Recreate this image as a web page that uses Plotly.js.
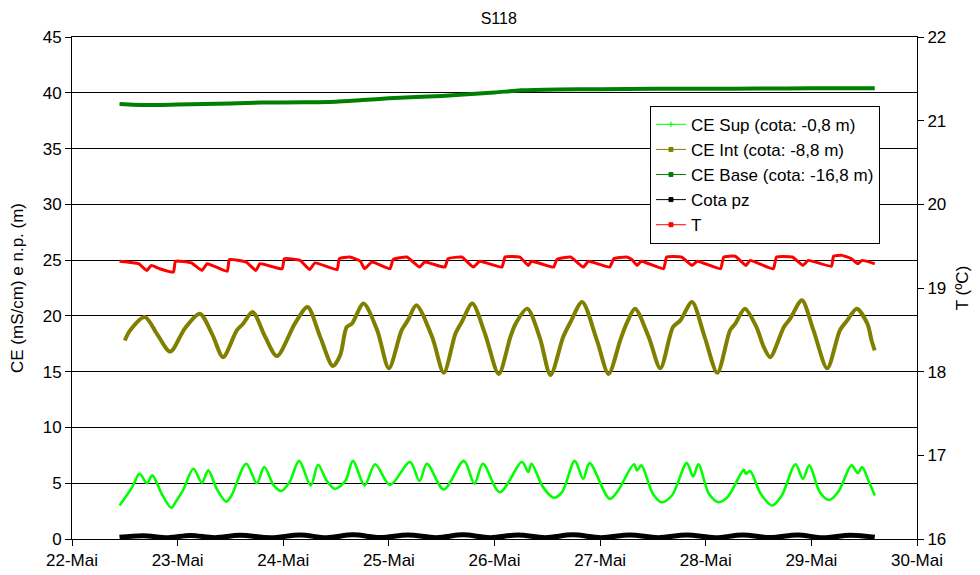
<!DOCTYPE html>
<html>
<head>
<meta charset="utf-8">
<script src="https://cdn.plot.ly/plotly-3.0.1.min.js"></script>
<style>html,body{margin:0;padding:0;background:#fff;}#chart{width:980px;height:575px;}</style>
</head>
<body>
<div id="chart"></div>
<script>
// x values are days of May (decimal)
const dayTicks = [22, 23, 24, 25, 26, 27, 28, 29, 30];
const dayLabels = ['22-Mai', '23-Mai', '24-Mai', '25-Mai', '26-Mai', '27-Mai', '28-Mai', '29-Mai', '30-Mai'];

const supT = [22.45, 22.57, 22.64, 22.71, 22.76, 22.85, 22.94, 22.98, 23.05, 23.15,
  23.23, 23.29, 23.37, 23.46, 23.51, 23.65, 23.75, 23.82, 23.91, 23.98,
  24.06, 24.15, 24.26, 24.33, 24.41, 24.49, 24.59, 24.66, 24.77, 24.87,
  25.01, 25.20, 25.29, 25.36, 25.52, 25.71, 25.81, 25.89, 26.05, 26.26,
  26.32, 26.35, 26.46, 26.56, 26.64, 26.76, 26.84, 26.90, 27.09, 27.17,
  27.32, 27.35, 27.39, 27.50, 27.58, 27.68, 27.82, 27.88, 27.93, 28.03,
  28.12, 28.21, 28.36, 28.38, 28.42, 28.52, 28.63, 28.72, 28.85, 28.92,
  28.98, 29.08, 29.17, 29.26, 29.38, 29.44, 29.48, 29.54, 29.60];
const supV = [3.0, 4.65, 5.85, 5.0, 5.7, 4.05, 2.8, 3.3, 4.35, 6.3,
  5.05, 6.15, 4.5, 3.35, 3.9, 6.75, 5.0, 6.45, 4.8, 4.3,
  5.1, 7.0, 4.8, 6.65, 5.25, 4.5, 5.25, 7.0, 4.8, 6.7,
  4.85, 6.9, 5.2, 6.75, 4.45, 7.0, 4.95, 6.75, 4.2, 6.9,
  6.0, 6.75, 4.65, 3.7, 4.2, 7.0, 5.4, 6.8, 3.6, 4.35,
  6.7, 6.15, 6.6, 4.05, 3.3, 3.9, 6.8, 5.6, 6.7, 4.05,
  3.3, 3.8, 6.2, 5.85, 6.1, 4.05, 3.0, 3.9, 6.7, 5.4,
  6.6, 4.2, 3.5, 4.3, 6.6, 5.9, 6.45, 5.25, 3.9];

const intT = [22.50, 22.55, 22.69, 22.81, 22.93, 23.07, 23.21, 23.33, 23.43, 23.56,
  23.62, 23.71, 23.83, 23.94, 24.11, 24.23, 24.35, 24.47, 24.54, 24.60,
  24.65, 24.76, 24.89, 25.00, 25.12, 25.18, 25.26, 25.41, 25.52, 25.63,
  25.69, 25.79, 25.91, 26.04, 26.15, 26.20, 26.31, 26.43, 26.53, 26.65,
  26.72, 26.83, 26.97, 27.08, 27.19, 27.25, 27.33, 27.46, 27.57, 27.69,
  27.76, 27.87, 27.99, 28.11, 28.23, 28.28, 28.37, 28.48, 28.55, 28.61,
  28.74, 28.80, 28.91, 29.02, 29.15, 29.27, 29.34, 29.43, 29.53, 29.57, 29.60];
const intV = [17.8, 18.7, 19.9, 18.3, 16.8, 18.9, 20.2, 18.3, 16.3, 18.7,
  19.3, 20.35, 18.1, 16.4, 19.3, 20.8, 18.1, 15.5, 16.5, 19.0,
  19.3, 21.1, 18.7, 15.3, 18.7, 19.6, 20.95, 18.1, 14.9, 18.4,
  19.45, 21.1, 18.4, 14.8, 18.1, 19.3, 20.65, 18.0, 14.7, 18.1,
  19.45, 21.25, 17.8, 14.8, 17.8, 19.3, 20.65, 18.1, 15.3, 19.0,
  19.6, 21.25, 18.1, 14.9, 18.7, 19.3, 20.65, 19.0, 17.2, 16.3,
  19.0, 19.75, 21.4, 18.7, 15.3, 18.7, 19.6, 20.65, 19.3, 17.8, 16.9];

const baseT = [22.45, 22.70, 23.00, 23.50, 23.80, 24.20, 24.50, 24.75, 25.00, 25.50,
  26.00, 26.25, 26.60, 27.00, 27.50, 28.00, 28.50, 29.00, 29.60];
const baseV = [39.0, 38.9, 38.95, 39.05, 39.12, 39.15, 39.2, 39.35, 39.5, 39.72,
  40.02, 40.22, 40.3, 40.32, 40.35, 40.36, 40.38, 40.4, 40.4];

const pzT = [22.45, 22.67, 22.91, 23.12, 23.35, 23.59, 23.88, 24.16, 24.41, 24.66,
  24.92, 25.18, 25.45, 25.70, 25.96, 26.22, 26.48, 26.74, 27.01, 27.28,
  27.55, 27.82, 28.09, 28.35, 28.61, 28.87, 29.11, 29.37, 29.60];
const pzV = [0.15, 0.30, 0.12, 0.32, 0.12, 0.33, 0.12, 0.35, 0.12, 0.37,
  0.13, 0.36, 0.12, 0.37, 0.12, 0.36, 0.12, 0.37, 0.12, 0.36,
  0.12, 0.36, 0.12, 0.35, 0.13, 0.35, 0.12, 0.34, 0.15];

const tempT = [22.45, 22.63, 22.71, 22.75, 22.83, 22.96, 22.98, 23.13, 23.23, 23.28,
  23.47, 23.49, 23.65, 23.74, 23.78, 23.99, 24.01, 24.16, 24.25, 24.30,
  24.51, 24.53, 24.63, 24.73, 24.77, 24.84, 25.01, 25.04, 25.17, 25.29,
  25.34, 25.53, 25.56, 25.69, 25.80, 25.86, 26.07, 26.10, 26.24, 26.32,
  26.35, 26.56, 26.59, 26.72, 26.84, 26.89, 27.09, 27.13, 27.25, 27.30,
  27.35, 27.39, 27.60, 27.63, 27.77, 27.87, 27.92, 28.14, 28.17, 28.28,
  28.38, 28.42, 28.64, 28.67, 28.82, 28.92, 28.97, 29.19, 29.21, 29.29,
  29.38, 29.44, 29.48, 29.60];
const tempV = [19.32, 19.29, 19.21, 19.27, 19.23, 19.19, 19.32, 19.30, 19.21, 19.29,
  19.20, 19.34, 19.31, 19.21, 19.29, 19.23, 19.35, 19.33, 19.22, 19.30,
  19.22, 19.35, 19.37, 19.32, 19.23, 19.31, 19.23, 19.34, 19.37, 19.25,
  19.31, 19.25, 19.35, 19.37, 19.25, 19.32, 19.25, 19.37, 19.37, 19.27,
  19.32, 19.25, 19.34, 19.37, 19.25, 19.32, 19.25, 19.35, 19.37, 19.34,
  19.27, 19.32, 19.23, 19.37, 19.37, 19.27, 19.32, 19.23, 19.37, 19.38,
  19.27, 19.33, 19.23, 19.37, 19.37, 19.27, 19.33, 19.26, 19.38, 19.39,
  19.35, 19.29, 19.33, 19.29];

const seriesNames = ['CE Sup (cota: -0,8 m)', 'CE Int (cota: -8,8 m)', 'CE Base (cota: -16,8 m)', 'Cota pz', 'T'];
const seriesColors = ['#00FF00', '#808000', '#008000', '#000000', '#FF0000'];
const legendSymbols = ['line-ew', 'square', 'circle', 'square', 'circle'];

const FONT = 'Liberation Sans, Arial, sans-serif';

const traces = [
  {x: supT, y: supV, name: seriesNames[0], mode: 'lines', showlegend: false,
   line: {color: seriesColors[0], width: 2.6, shape: 'spline', smoothing: 0.9}},
  {x: intT, y: intV, name: seriesNames[1], mode: 'lines', showlegend: false,
   line: {color: seriesColors[1], width: 4, shape: 'spline', smoothing: 0.8}},
  {x: baseT, y: baseV, name: seriesNames[2], mode: 'lines', showlegend: false,
   line: {color: seriesColors[2], width: 4, shape: 'spline', smoothing: 0.6}},
  {x: pzT, y: pzV, name: seriesNames[3], mode: 'lines', showlegend: false,
   line: {color: seriesColors[3], width: 5, shape: 'spline', smoothing: 1}},
  {x: tempT, y: tempV, name: seriesNames[4], mode: 'lines', yaxis: 'y2', showlegend: false,
   line: {color: seriesColors[4], width: 3, shape: 'spline', smoothing: 0.4}}
];
// legend-only entries with thin lines and small markers, like the reference legend
seriesNames.forEach(function (n, i) {
  traces.push({x: [null], y: [null], name: n, mode: 'lines+markers', showlegend: true,
    hoverinfo: 'skip',
    line: {color: seriesColors[i], width: 1},
    marker: {color: seriesColors[i], size: 4, symbol: i === 0 ? 'cross-thin' : 'square',
      line: {color: seriesColors[i], width: 1}}});
});

const layout = {
  width: 980, height: 575,
  margin: {l: 72, r: 63, t: 37, b: 36},
  paper_bgcolor: '#ffffff', plot_bgcolor: '#ffffff',
  font: {family: FONT, size: 17, color: '#000'},
  title: {text: 'S118', font: {family: FONT, size: 16, color: '#000'}, x: 0.505, xref: 'paper', xanchor: 'center', y: 0.968, yanchor: 'middle'},
  showlegend: true,
  legend: {x: 0.684, y: 0.863, xanchor: 'left', yanchor: 'top', bgcolor: '#ffffff',
    bordercolor: '#000000', borderwidth: 1, font: {family: FONT, size: 17, color: '#000'},
    itemwidth: 30, tracegroupgap: 0},
  xaxis: {range: [22, 30], tickmode: 'array', tickvals: dayTicks, ticktext: dayLabels,
    showgrid: false, zeroline: false, showline: true, linecolor: '#000', linewidth: 1,
    mirror: true, ticks: 'outside', ticklen: 6, tickcolor: '#000',
    tickfont: {family: FONT, size: 17, color: '#000'}},
  yaxis: {range: [0, 45], tickmode: 'linear', tick0: 0, dtick: 5,
    showgrid: true, gridcolor: '#000000', gridwidth: 1, zeroline: false,
    showline: true, linecolor: '#000', linewidth: 1, ticks: 'outside', ticklen: 6, tickcolor: '#000',
    tickfont: {family: FONT, size: 17, color: '#000'},
    title: {text: 'CE (mS/cm) e n.p. (m)', font: {family: FONT, size: 17, color: '#000'}, standoff: 14}},
  yaxis2: {range: [16, 22], tickmode: 'linear', tick0: 16, dtick: 1, overlaying: 'y', side: 'right',
    showgrid: false, zeroline: false, showline: true, linecolor: '#000', linewidth: 1,
    ticks: 'outside', ticklen: 6, tickcolor: '#000',
    tickfont: {family: FONT, size: 17, color: '#000'},
    title: {text: 'T (ºC)', font: {family: FONT, size: 17, color: '#000'}, standoff: 10}}
};

Plotly.newPlot('chart', traces, layout, {displayModeBar: false, responsive: false});
</script>
</body>
</html>
